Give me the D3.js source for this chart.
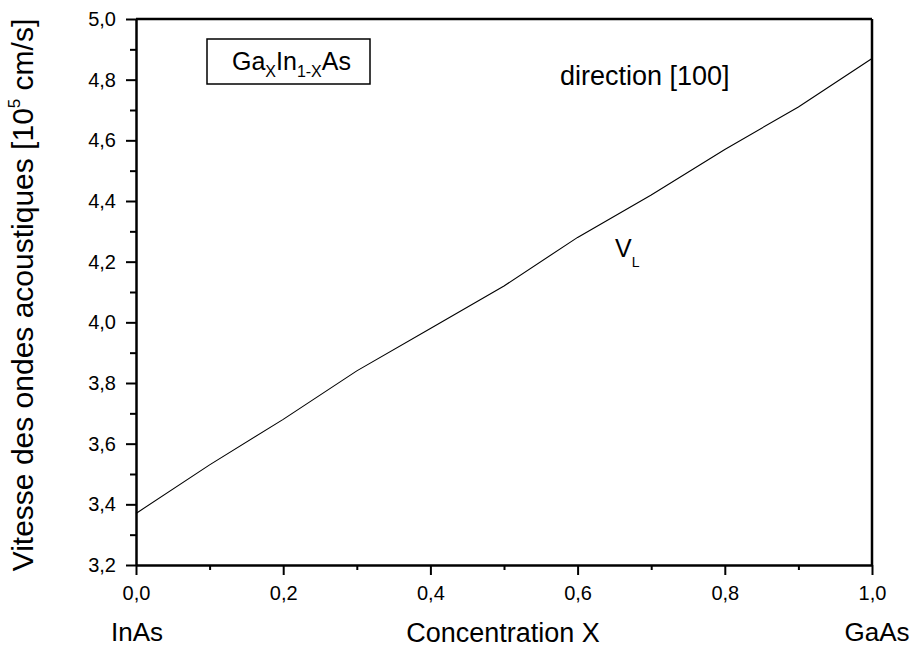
<!DOCTYPE html>
<html>
<head>
<meta charset="utf-8">
<script src="https://cdn.jsdelivr.net/npm/d3@7"></script>
<style>
  body { margin: 0; background: #fff; }
  svg { font-family: Arial, "Liberation Sans", sans-serif; }
</style>
</head>
<body>
<svg id="chart" width="915" height="651"></svg>
<script>
// data
var conc = [0.0, 0.1, 0.2, 0.3, 0.4, 0.5, 0.6, 0.7, 0.8, 0.9, 1.0];
var vL = [3.37, 3.53, 3.68, 3.84, 3.98, 4.12, 4.28, 4.42, 4.57, 4.71, 4.87];
var xTicks = [0, 0.2, 0.4, 0.6, 0.8, 1.0];
var yTicks = [3.2, 3.4, 3.6, 3.8, 4.0, 4.2, 4.4, 4.6, 4.8, 5.0];

var svg = d3.select("#chart"),
    margin = {top: 19, right: 43, bottom: 86, left: 136},
    width = 915 - margin.left - margin.right,
    height = 651 - margin.top - margin.bottom;

var g = svg.append("g").attr("transform", "translate(" + margin.left + "," + margin.top + ")");

var x = d3.scaleLinear().domain([0, 1]).range([0, width]);
var y = d3.scaleLinear().domain([3.2, 5.0]).range([height, 0]);

var fmt = function (d) { return d3.format(".1f")(d).replace(".", ","); };

// minor ticks
g.append("g")
    .attr("transform", "translate(0," + height + ")")
    .call(d3.axisBottom(x).tickValues(d3.range(0.1, 1, 0.2)).tickSize(5).tickFormat(""))
    .call(function (s) { s.select(".domain").remove(); });
g.append("g")
    .call(d3.axisLeft(y).tickValues(d3.range(3.3, 5.0, 0.2)).tickSize(6).tickFormat(""))
    .call(function (s) { s.select(".domain").remove(); });

var xAxis = g.append("g")
    .attr("transform", "translate(0," + height + ")")
    .call(d3.axisBottom(x).tickValues(xTicks).tickSize(10).tickSizeOuter(0).tickPadding(11).tickFormat(fmt));
var yAxis = g.append("g")
    .call(d3.axisLeft(y).tickValues(yTicks).tickSize(10).tickSizeOuter(0).tickPadding(10).tickFormat(fmt));

g.selectAll(".tick line").attr("stroke", "#000").attr("stroke-width", 2);
g.selectAll(".tick text").attr("font-size", 20).attr("fill", "#000");
g.selectAll(".domain").attr("stroke-width", 2.5);
svg.selectAll("text").attr("font-family", "Arial, 'Liberation Sans', sans-serif");

// frame top and right
g.append("line").attr("x1", 0).attr("x2", width).attr("y1", 0).attr("y2", 0)
    .attr("stroke", "#000").attr("stroke-width", 2.5);
g.append("line").attr("x1", width).attr("x2", width).attr("y1", 0).attr("y2", height)
    .attr("stroke", "#000").attr("stroke-width", 2.5);

// data line
var line = d3.line()
    .x(function (d, i) { return x(conc[i]); })
    .y(function (d) { return y(d); });
g.append("path").datum(vL)
    .attr("d", line)
    .attr("fill", "none")
    .attr("stroke", "#000")
    .attr("stroke-width", 1.1);

// axis titles
svg.append("text").attr("x", 137).attr("y", 641).attr("text-anchor", "middle")
    .attr("font-size", 26).text("InAs");
svg.append("text").attr("x", 877).attr("y", 641).attr("text-anchor", "middle")
    .attr("font-size", 26).text("GaAs");
svg.append("text").attr("x", 503).attr("y", 642).attr("text-anchor", "middle")
    .attr("font-size", 27).text("Concentration X");

var yl = svg.append("text")
    .attr("transform", "translate(33,295) rotate(-90)")
    .attr("text-anchor", "middle")
    .attr("font-size", 30);
yl.append("tspan").text("Vitesse des ondes acoustiques [10");
yl.append("tspan").attr("font-size", 17).attr("dy", -13).text("5");
yl.append("tspan").attr("dy", 13).text(" cm/s]");

// legend box
svg.append("rect").attr("x", 207).attr("y", 39).attr("width", 163).attr("height", 45)
    .attr("fill", "none").attr("stroke", "#000").attr("stroke-width", 1.5);
var lt = svg.append("text").attr("x", 232).attr("y", 70).attr("font-size", 25);
lt.append("tspan").text("Ga");
lt.append("tspan").attr("font-size", 16).attr("dy", 7).text("X");
lt.append("tspan").attr("dy", -7).text("In");
lt.append("tspan").attr("font-size", 16).attr("dy", 7).text("1-X");
lt.append("tspan").attr("dy", -7).text("As");

svg.append("text").attr("x", 560).attr("y", 85).attr("font-size", 27).text("direction [100]");

var vt = svg.append("text").attr("x", 615).attr("y", 257).attr("font-size", 25);
vt.append("tspan").text("V");
vt.append("tspan").attr("font-size", 14).attr("dy", 10).text("L");
</script>
</body>
</html>
